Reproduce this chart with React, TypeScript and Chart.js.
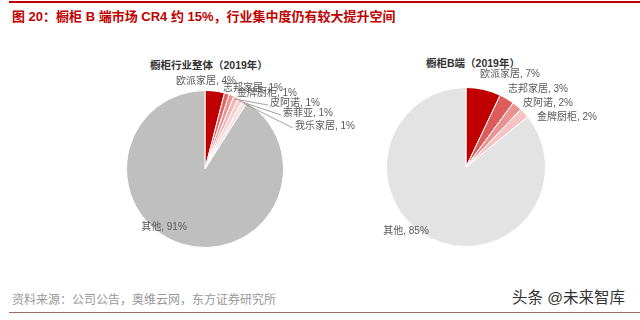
import React, { useEffect, useRef } from "react";
import { Chart, registerables } from "chart.js";

Chart.register(...registerables);

// ---- data ----
const titleText = "图 20：橱柜 B 端市场 CR4 约 15%，行业集中度仍有较大提升空间";
const leftSubtitle = "橱柜行业整体（2019年）";
const rightSubtitle = "橱柜B端（2019年）";
const sourceText = "资料来源：公司公告，奥维云网，东方证券研究所";
const watermarkText = "头条 @未来智库";

const leftCategories = ["欧派家居", "志邦家居", "金牌厨柜", "皮阿诺", "索菲亚", "我乐家居", "其他"];
const leftValues = [4, 1, 1, 1, 1, 1, 91];

const rightCategories = ["欧派家居", "志邦家居", "皮阿诺", "金牌厨柜", "其他"];
const rightValues = [7, 3, 2, 2, 85];

// ---- styles ----
const leftColors = ["#c00000", "#e06464", "#ec9292", "#f2b4b4", "#f6cece", "#fae2e2", "#bfbfbf"];
const rightColors = ["#c00000", "#dc5c5c", "#e99393", "#f4c4c4", "#e3e3e3"];

// label offsets relative to pie centre: [dx, dy, align, leader]
type LabelPos = [number, number, CanvasTextAlign, boolean];
const leftLabelPos: LabelPos[] = [
  [1, -88, "center", false],
  [18, -81, "left", false],
  [32, -76, "left", false],
  [65, -66, "left", true],
  [78, -56, "left", true],
  [90, -43, "left", true],
  [-41, 58, "center", false],
];
const rightLabelPos: LabelPos[] = [
  [14, -93, "left", false],
  [42, -78, "left", false],
  [57, -64, "left", false],
  [71, -50, "left", false],
  [-60, 64, "center", false],
];

const FONT = '"Liberation Sans", "Noto Sans CJK SC", sans-serif';

function makeLabelPlugin(pos: LabelPos[]) {
  return {
    id: "pieLabels",
    afterDatasetsDraw(chart: any) {
      const ctx = chart.ctx as CanvasRenderingContext2D;
      const meta = chart.getDatasetMeta(0);
      const labels = chart.data.labels as string[];
      const data = chart.data.datasets[0].data as number[];
      ctx.save();
      ctx.font = `10px ${FONT}`;
      ctx.textBaseline = "middle";
      meta.data.forEach((arc: any, i: number) => {
        const p = arc.getProps(["x", "y", "startAngle", "endAngle", "outerRadius"], true);
        const [dx, dy, align, leader] = pos[i];
        const tx = p.x + dx;
        const ty = p.y + dy;
        if (leader) {
          const mid = (p.startAngle + p.endAngle) / 2;
          const px = p.x + Math.cos(mid) * p.outerRadius * 0.97;
          const py = p.y + Math.sin(mid) * p.outerRadius * 0.97;
          ctx.strokeStyle = "#8c8c8c";
          ctx.lineWidth = 0.8;
          ctx.beginPath();
          ctx.moveTo(px, py);
          ctx.lineTo(tx - 2, ty + 2);
          ctx.stroke();
        }
        ctx.fillStyle = "#595959";
        ctx.textAlign = align;
        ctx.fillText(`${labels[i]}, ${data[i]}%`, tx, ty);
      });
      ctx.restore();
    },
  };
}

function PieChart(props: {
  labels: string[];
  values: number[];
  colors: string[];
  pos: LabelPos[];
  width: number;
  height: number;
  padding: { left: number; right: number; top: number; bottom: number };
  style: React.CSSProperties;
}) {
  const ref = useRef<HTMLCanvasElement>(null);
  useEffect(() => {
    if (!ref.current) return;
    const chart = new Chart(ref.current, {
      type: "pie",
      data: {
        labels: props.labels,
        datasets: [
          {
            data: props.values,
            backgroundColor: props.colors,
            borderColor: "#ffffff",
            borderWidth: 1,
            hoverOffset: 0,
          },
        ],
      },
      options: {
        responsive: false,
        animation: false,
        devicePixelRatio: 1,
        layout: { padding: props.padding },
        plugins: {
          legend: { display: false },
          tooltip: { enabled: false },
          title: { display: false },
        },
        events: [],
      },
      plugins: [makeLabelPlugin(props.pos)],
    } as any);
    return () => chart.destroy();
  }, []);
  return <canvas ref={ref} width={props.width} height={props.height} style={props.style} />;
}

export default function App() {
  return (
    <div
      style={{
        position: "fixed",
        left: 0,
        top: 0,
        width: 640,
        height: 320,
        background: "#ffffff",
        overflow: "hidden",
        fontFamily: FONT,
      }}
    >
      <div style={{ position: "absolute", left: 9, right: 0, top: 1, height: 2, background: "#c00000" }} />
      <div
        style={{
          position: "absolute",
          left: 12,
          top: 8,
          fontSize: 13,
          lineHeight: "17px",
          color: "#c00000",
          fontWeight: 700,
          whiteSpace: "nowrap",
        }}
      >
        {titleText}
      </div>
      <div
        style={{
          position: "absolute",
          left: 150,
          width: 110,
          top: 57,
          textAlign: "center",
          fontSize: 10.5,
          lineHeight: "16px",
          fontWeight: 700,
          color: "#333333",
          whiteSpace: "nowrap",
        }}
      >
        {leftSubtitle}
      </div>
      <div
        style={{
          position: "absolute",
          left: 418,
          width: 110,
          top: 55,
          textAlign: "center",
          fontSize: 10.5,
          lineHeight: "16px",
          fontWeight: 700,
          color: "#333333",
          whiteSpace: "nowrap",
        }}
      >
        {rightSubtitle}
      </div>
      <PieChart
        labels={leftCategories}
        values={leftValues}
        colors={leftColors}
        pos={leftLabelPos}
        width={260}
        height={220}
        padding={{ left: 26, right: 76, top: 40, bottom: 22 }}
        style={{ position: "absolute", left: 100, top: 50 }}
      />
      <PieChart
        labels={rightCategories}
        values={rightValues}
        colors={rightColors}
        pos={rightLabelPos}
        width={270}
        height={220}
        padding={{ left: 26, right: 84, top: 37, bottom: 23 }}
        style={{ position: "absolute", left: 360, top: 50 }}
      />
      <div
        style={{
          position: "absolute",
          left: 12,
          top: 292,
          fontSize: 12,
          lineHeight: "16px",
          color: "#999999",
          whiteSpace: "nowrap",
        }}
      >
        {sourceText}
      </div>
      <div
        style={{
          position: "absolute",
          left: 512,
          top: 288,
          fontSize: 15.5,
          lineHeight: "19px",
          color: "#333333",
          whiteSpace: "nowrap",
        }}
      >
        {watermarkText}
      </div>
      <div style={{ position: "absolute", left: 9, right: 0, top: 312, height: 1, background: "#9e6a60" }} />
    </div>
  );
}
